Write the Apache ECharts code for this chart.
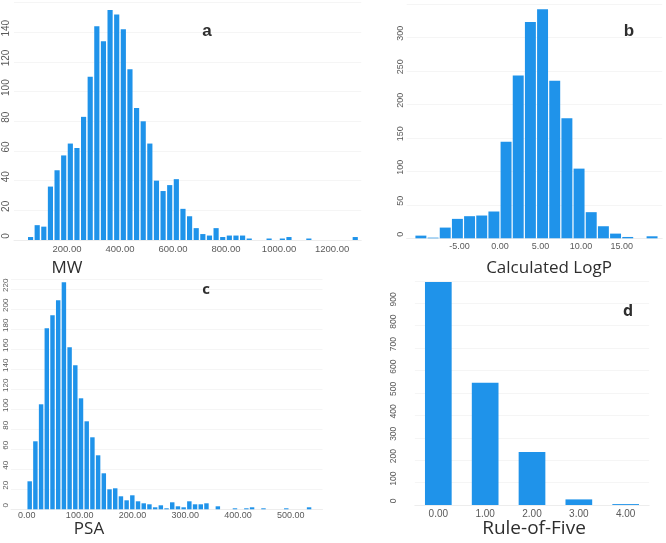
<!DOCTYPE html>
<html>
<head>
<meta charset="utf-8">
<script src="https://cdn.jsdelivr.net/npm/echarts@6/dist/echarts.min.js"></script>
<style>
  html, body { margin: 0; padding: 0; background: #fff; }
  #chart { width: 666px; height: 543px; }
</style>
</head>
<body>
<div id="chart"></div>
<script>
// histogram bins (first bin start, bin width) and counts
const mwStart = 50, mwWidth = 25;
const mwCounts = [2, 10, 9, 36, 47, 57, 65, 62, 83, 110,
  144, 134, 155, 152, 142, 115, 89, 80, 65, 40,
  33, 37, 41, 21, 16, 8, 4, 3, 8, 2,
  3, 3, 3, 1, 0, 0, 1, 0, 1, 2,
  0, 0, 1, 0, 0, 0, 0, 0, 0, 2];

const logpStart = -10.5, logpWidth = 1.5;
const logpCounts = [4, 1, 16, 29, 33, 34, 40, 144, 243, 323,
  342, 235, 179, 104, 39, 18, 7, 2, 0, 3];

const psaStart = 0, psaWidth = 10.8;
const psaCounts = [28, 68, 105, 181, 194, 209, 227, 162, 144, 111,
  88, 72, 54, 36, 20, 21, 13, 9, 14, 8,
  6, 5, 2, 4, 1, 7, 3, 2, 8, 5,
  5, 6, 0, 3, 0, 0, 1, 0, 1, 2,
  0, 1, 0, 0, 0, 1, 0, 0, 0, 2];

const rofCategories = ['0.00', '1.00', '2.00', '3.00', '4.00'];
const rofCounts = [995, 545, 237, 25, 4];

const axisTitles = ['MW', 'Calculated LogP', 'PSA', 'Rule-of-Five'];
const panelLetters = ['a', 'b', 'c', 'd'];

const BLUE = '#1f93ea';
const LABEL_GREY = '#5a5a5a';
const GRID_GREY = '#f5f5f5';

function toBins(start, width, counts) {
  return counts.map((c, i) => [start + (i + 0.5) * width, c]);
}

function xLabel(step, lo, hi) {
  return function (v) {
    if (v < lo - 1e-6 || v > hi + 1e-6) return '';
    const r = Math.abs(v / step - Math.round(v / step));
    return r < 1e-6 ? v.toFixed(2) : '';
  };
}

function yAxis(gridIndex, max, interval, fontSize, margin) {
  return {
    type: 'value', gridIndex, min: 0, max, interval,
    axisLine: { show: false },
    axisTick: { show: false },
    splitLine: { lineStyle: { color: GRID_GREY, width: 1 } },
    axisLabel: {
      rotate: 90, margin, showMaxLabel: false,
      // left padding nudges the rotated labels a few px up, as in the source
      padding: [0, 0, 0, 8],
      color: LABEL_GREY, fontSize, fontFamily: 'Liberation Sans'
    }
  };
}

function xValueAxis(gridIndex, min, max, interval, fmt, fontSize, margin) {
  return {
    type: 'value', gridIndex, min, max, interval,
    axisLine: { show: true, onZero: false, lineStyle: { color: '#ededed' } },
    axisTick: { show: false },
    splitLine: { show: false },
    axisLabel: {
      formatter: fmt, margin, showMinLabel: true, showMaxLabel: true,
      color: LABEL_GREY, fontSize, fontFamily: 'Liberation Sans'
    }
  };
}

const chart = echarts.init(document.getElementById('chart'), null, { renderer: 'canvas' });

const titlePos = [[67, 268], [549, 268], [89, 529], [534, 529]];
const titleSize = [17, 17, 17, 19];
const letterPos = [[207, 31], [629, 31], [206, 290], [628, 311]];
const letterFont = ['bold 17px "Liberation Sans"', 'bold 17px "Liberation Sans"',
  'bold 15px "Open Sans"', 'bold 16px "Open Sans"'];

const graphics = [];
axisTitles.forEach((t, i) => {
  graphics.push({
    type: 'text', z: 100, x: titlePos[i][0], y: titlePos[i][1],
    style: { text: t, font: titleSize[i] + 'px "Open Sans"', fill: '#2e2e2e',
      align: 'center', verticalAlign: 'middle' }
  });
});
panelLetters.forEach((t, i) => {
  graphics.push({
    type: 'text', z: 100, x: letterPos[i][0], y: letterPos[i][1],
    style: { text: t, font: letterFont[i], fill: '#2e2e2e',
      align: 'center', verticalAlign: 'middle' }
  });
});

const option = {
  backgroundColor: '#fff',
  animation: false,
  grid: [
    { left: 14, top: 2.6, width: 347.2, height: 237.4, outerBoundsMode: 'none' },
    { left: 406.7, top: 3.8, width: 255.5, height: 234.5, outerBoundsMode: 'none' },
    { left: 11, top: 279.3, width: 311.5, height: 230, outerBoundsMode: 'none' },
    { left: 414.9, top: 280.9, width: 234.2, height: 224.1, outerBoundsMode: 'none' }
  ],
  xAxis: [
    xValueAxis(0, 0, 1310, 200, xLabel(200, 200, 1200), 9.5, 4),
    xValueAxis(1, -11.5, 20, 0.5, xLabel(5, -5, 15), 9, 4),
    xValueAxis(2, -30, 560, 10, xLabel(100, 0, 500), 9, 2),
    {
      type: 'category', gridIndex: 3, data: rofCategories,
      axisLine: { show: true, lineStyle: { color: '#ededed' } },
      axisTick: { show: false },
      axisLabel: { color: LABEL_GREY, fontSize: 10, fontFamily: 'Liberation Sans', margin: 4 }
    }
  ],
  yAxis: [
    yAxis(0, 160, 20, 10, 3),
    yAxis(1, 350, 50, 9, 2),
    yAxis(2, 230, 20, 8, 1.5),
    yAxis(3, 1000, 100, 8.5, 17)
  ],
  series: [
    { type: 'bar', xAxisIndex: 0, yAxisIndex: 0, barWidth: '78%',
      itemStyle: { color: BLUE }, data: toBins(mwStart, mwWidth, mwCounts) },
    { type: 'bar', xAxisIndex: 1, yAxisIndex: 1, barWidth: '90%',
      itemStyle: { color: BLUE }, data: toBins(logpStart, logpWidth, logpCounts) },
    { type: 'bar', xAxisIndex: 2, yAxisIndex: 2, barWidth: '78%',
      itemStyle: { color: BLUE }, data: toBins(psaStart, psaWidth, psaCounts) },
    { type: 'bar', xAxisIndex: 3, yAxisIndex: 3, barWidth: '57%',
      itemStyle: { color: BLUE }, data: rofCounts }
  ],
  graphic: graphics
};

chart.setOption(option);
</script>
</body>
</html>
